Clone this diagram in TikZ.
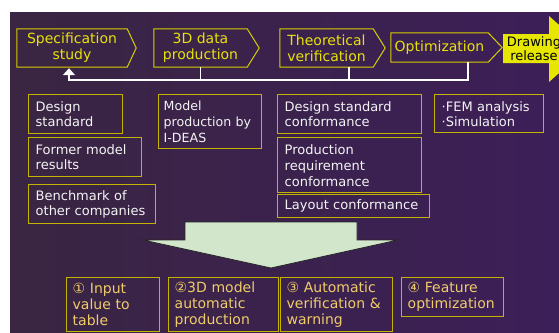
\documentclass[tikz,border=0pt]{standalone}
\usepackage{fontspec}
\setmainfont{DejaVu Sans}
\usetikzlibrary{calc,arrows.meta}
\definecolor{bgleft}{RGB}{58,37,66}
\definecolor{bgright}{RGB}{60,31,88}
\definecolor{chevline}{RGB}{214,206,0}
\definecolor{chevtext}{RGB}{232,226,10}
\definecolor{boxline}{RGB}{196,180,0}
\definecolor{boxtext}{RGB}{244,244,244}
\definecolor{stepnum}{RGB}{240,204,106}
\definecolor{arrowfill}{RGB}{210,230,204}
\definecolor{releasefill}{RGB}{230,230,0}
\tikzset{
  chevlabel/.style={minimum width=#1, minimum height=38pt, inner sep=0pt,
    align=center, text=chevtext, font=\fontsize{14}{16}\selectfont},
  chevout/.style={draw=chevline, line width=1pt},
  infobox/.style={draw=boxline, line width=1.4pt, anchor=north west,
    inner xsep=7pt, inner ysep=0pt, align=left, text=boxtext,
    font=\fontsize{13}{15}\selectfont},
  stepbox/.style={infobox, text=stepnum, inner xsep=6pt,
    font=\fontsize{14}{16}\selectfont},
  fb/.style={draw=white, line width=1.5pt},
}
\begin{document}
\begin{tikzpicture}[x=1pt,y=-1pt]
\useasboundingbox (0,0) rectangle (559,332);
\begin{scope}
\clip (0,0) rectangle (559,332);
% backdrop
\shade[left color=bgleft, right color=bgright] (10,12) rectangle (559,332);

% process chevrons
\node[chevlabel=110pt] (spec) at (72,48) {Specification\\study};
\node[chevlabel=93pt] (data) at (200.5,48) {3D data\\production};
\node[chevlabel=93pt] (theo) at (326.5,48) {Theoretical\\verification};
\node[chevlabel=97pt, minimum height=29pt] (opt) at (439.5,47.5) {Optimization};
\draw[chevout] (spec.north west) -- (spec.north east) -- ($(spec.east)+(9,0)$)
  -- (spec.south east) -- (spec.south west) -- cycle;
\draw[chevout] (data.north west) -- (data.north east) -- ($(data.east)+(12,0)$)
  -- (data.south east) -- (data.south west) -- cycle;
\draw[chevout] (theo.north west) -- (theo.north east) -- ($(theo.east)+(12,0)$)
  -- (theo.south east) -- (theo.south west) -- cycle;
\draw[chevout] (opt.north west) -- (opt.north east) -- ($(opt.east)+(14,0)$)
  -- (opt.south east) -- (opt.south west) -- cycle;

% release arrow
\fill[releasefill] (503,34) -- (549,34) -- (549,16) -- (586,49) -- (549,82)
  -- (549,63) -- (503,63) -- cycle;
\node[text=black, align=center, inner sep=0pt, font=\fontsize{13}{12}\selectfont]
  (rel) at (534,48.5) {Drawing\\release};

% feedback loop
\coordinate (fbrow) at (0,80);
\draw[fb] (data.south) -- (data.south |- fbrow);
\draw[fb] ([xshift=22.5pt]theo.south) -- ([xshift=22.5pt]theo.south |- fbrow);
\draw[fb, -{Triangle[width=12pt,length=7pt]}]
  ([xshift=28.5pt]opt.south) -- ([xshift=28.5pt]opt.south |- fbrow)
  -| ([xshift=-3pt,yshift=-1pt]spec.south);

% supporting items
\node[infobox, text width=80pt, minimum height=39pt] (ds) at (28,94) {Design\\standard};
\node[infobox, text width=99pt, minimum height=39pt] (fm) at (28,137) {Former model\\results};
\node[infobox, text width=113pt, minimum height=39pt] (bm) at (28,184) {Benchmark of\\other companies};
\node[infobox, inner xsep=5pt, text width=93pt, minimum height=54pt,
  font=\fontsize{12.6}{16}\selectfont]
  (mp) at (158,94) {Model\\production by\\I-DEAS};
\node[infobox, text width=130pt, minimum height=39pt] (dc) at (277,94) {Design standard\\conformance};
\node[infobox, text width=130pt, minimum height=55pt, font=\fontsize{13}{16}\selectfont]
  (pr) at (277,137) {Production\\requirement\\conformance};
\node[infobox, text width=138pt, minimum height=23pt] (lc) at (277,194) {Layout conformance};
\node[infobox, text width=95pt, minimum height=38pt] (fem) at (434,94)
  {\textperiodcentered FEM analysis\\\textperiodcentered Simulation};

% big downward arrow
\filldraw[fill=arrowfill, draw=black!85, line width=0.8pt]
  (185,222) -- (357,222) -- (357,240) -- (398,240) -- (271,268) -- (143,240)
  -- (185,240) -- cycle;

% automated steps
\node[stepbox, text width=81pt, minimum height=54pt] (s1) at (66,277) {① Input\\value to\\table};
\node[stepbox, text width=98pt, minimum height=54pt] (s2) at (168,277) {②3D model\\automatic\\production};
\node[stepbox, text width=100pt, minimum height=54pt] (s3) at (280,277) {③ Automatic\\verification \&\\warning};
\node[stepbox, text width=90pt, minimum height=39pt] (s4) at (401,277) {④ Feature\\optimization};
\end{scope}
\end{tikzpicture}
\end{document}
